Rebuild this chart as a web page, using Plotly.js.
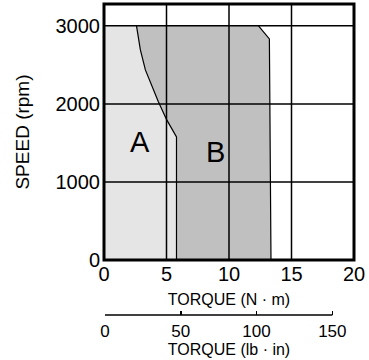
<!DOCTYPE html>
<html><head><meta charset="utf-8">
<script src="https://cdn.plot.ly/plotly-3.0.1.min.js"></script>
<style>body{margin:0;background:#fff}#chart{width:369px;height:360px}</style>
</head><body><div id="chart"></div>
<script>
// Boundary between region A and B (torque N·m, speed rpm)
const boundaryTorque = [2.60, 2.91, 3.31, 3.83, 4.35, 5.02, 5.67, 5.8, 5.8];
const boundarySpeed  = [3000, 2692, 2436, 2222, 2029, 1795, 1603, 1577, 0];
// Right edge of region B (bottom to top)
const edgeTorque = [13.36, 13.23, 12.36];
const edgeSpeed  = [0, 2833, 3000];
const xTicks = [0, 5, 10, 15, 20];
const yTicks = [0, 1000, 2000, 3000];
const lbinTicks = [0, 50, 100, 150];
const regionLabels = ['A', 'B'];
const labelTorque = [2.9, 8.95];
const labelSpeed = [1510, 1385];

const FONT = 'Liberation Sans, Arial, sans-serif';

const traceA = {
  x: [0, 0].concat(boundaryTorque),
  y: [0, 3000].concat(boundarySpeed),
  fill: 'toself', fillcolor: '#e5e5e5', mode: 'lines',
  line: {width: 0}, hoverinfo: 'skip', showlegend: false
};
const traceB = {
  x: boundaryTorque.concat(edgeTorque),
  y: boundarySpeed.concat(edgeSpeed),
  fill: 'toself', fillcolor: '#c0c0c0', mode: 'lines',
  line: {width: 1.2, color: '#000'}, hoverinfo: 'skip', showlegend: false
};
const traceLb = {
  x: [0], y: [0], xaxis: 'x2', yaxis: 'y', mode: 'markers',
  marker: {opacity: 0}, hoverinfo: 'skip', showlegend: false
};

const shapes = [];
[5, 10, 15].forEach(v => shapes.push({type: 'line', xref: 'x', yref: 'y domain', x0: v, x1: v, y0: 0, y1: 1, line: {color: '#000', width: 1.5}, layer: 'above'}));
[1000, 2000, 3000].forEach(v => shapes.push({type: 'line', xref: 'x domain', yref: 'y', x0: 0, x1: 1, y0: v, y1: v, line: {color: '#000', width: 1.5}, layer: 'above'}));
// plot frame
shapes.push({type: 'rect', xref: 'x domain', yref: 'y domain', x0: 0, x1: 1, y0: 0, y1: 1, line: {color: '#000', width: 3}, layer: 'above'});
const lbPos = 0.0744;
shapes.push({type: 'line', xref: 'x2', yref: 'paper', x0: lbinTicks[0], x1: lbinTicks[lbinTicks.length - 1], y0: lbPos, y1: lbPos, line: {color: '#000', width: 1.5}});

const annotations = regionLabels.map((t, i) => ({
  x: labelTorque[i], y: labelSpeed[i], xref: 'x', yref: 'y', text: t, showarrow: false,
  font: {family: FONT, size: 29, color: '#000'}
}));

const layout = {
  width: 369, height: 360,
  margin: {l: 104, r: 12, t: 4, b: 20},
  paper_bgcolor: '#fff', plot_bgcolor: '#fff',
  font: {family: FONT, color: '#000'},
  xaxis: {
    range: [0, 20], tickvals: xTicks, showgrid: false, zeroline: false,
    showline: false, ticks: '', automargin: true,
    tickfont: {size: 20, family: FONT, color: '#000'},
    title: {text: 'TORQUE (N · m)', font: {size: 16, family: FONT, color: '#000'}, standoff: 9}
  },
  yaxis: {
    range: [0, 3280], domain: [0.238, 1], tickvals: yTicks, showgrid: false, zeroline: false,
    showline: false, ticks: '', automargin: true, ticklabelstandoff: 3,
    tickfont: {size: 20, family: FONT, color: '#000'},
    title: {text: 'SPEED (rpm)', font: {size: 19, family: FONT, color: '#000'}, standoff: 20}
  },
  xaxis2: {
    overlaying: 'x', anchor: 'free', position: lbPos, side: 'bottom',
    range: [-0.65, 164.3], tickvals: lbinTicks, ticks: 'inside', ticklen: 4, tickwidth: 1.5, tickcolor: '#000',
    showline: false, showgrid: false, zeroline: false, ticklabelstandoff: 4,
    tickfont: {size: 17, family: FONT, color: '#000'},
    title: {text: 'TORQUE (lb · in)', font: {size: 16, family: FONT, color: '#000'}, standoff: 2}
  },
  shapes: shapes,
  annotations: annotations
};

Plotly.newPlot('chart', [traceA, traceB, traceLb], layout, {staticPlot: true, displayModeBar: false});
</script></body></html>
